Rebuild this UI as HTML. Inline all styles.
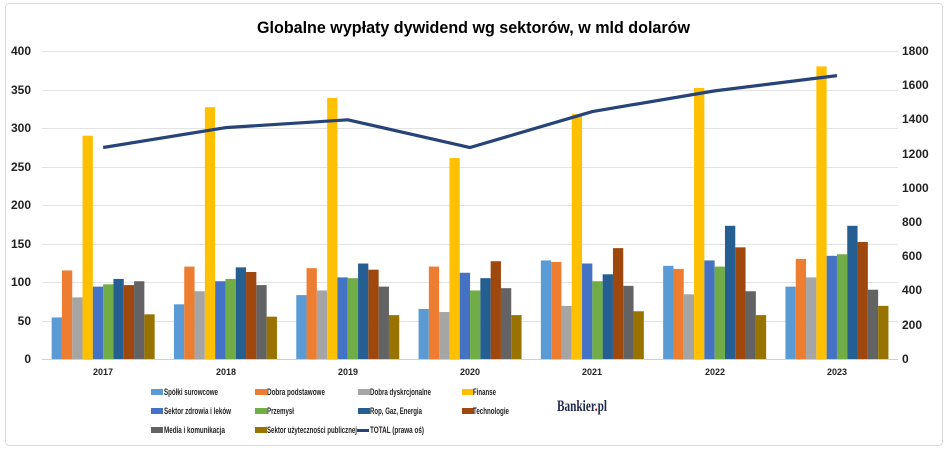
<!DOCTYPE html>
<html><head><meta charset="utf-8"><style>
html,body{margin:0;padding:0;background:#fff;}
svg{display:block;font-family:"Liberation Sans",sans-serif;}
</style></head><body>
<svg id="s" width="948" height="452" viewBox="0 0 948 452" xmlns="http://www.w3.org/2000/svg">
<rect x="5.5" y="3.5" width="937" height="442" rx="4" fill="#fff" stroke="#d9d9d9"/>
<text x="257" y="33" textLength="433" lengthAdjust="spacingAndGlyphs" font-size="17" font-weight="bold" fill="#000">Globalne wypłaty dywidend wg sektorów, w mld dolarów</text>
<g id="grid" stroke="#e3e3e3" stroke-width="1"></g>
<g id="bars"></g>
<g font-size="12" font-weight="bold" fill="#222" text-anchor="end">
<text x="31" y="55">400</text><text x="31" y="94">350</text><text x="31" y="132">300</text><text x="31" y="171">250</text><text x="31" y="209">200</text><text x="31" y="248">150</text><text x="31" y="286">100</text><text x="31" y="325">50</text><text x="31" y="363">0</text>
</g>
<g font-size="12" font-weight="bold" fill="#222" text-anchor="start">
<text x="902" y="55">1800</text><text x="902" y="89">1600</text><text x="902" y="123">1400</text><text x="902" y="158">1200</text><text x="902" y="192">1000</text><text x="902" y="226">800</text><text x="902" y="260">600</text><text x="902" y="294">400</text><text x="902" y="329">200</text><text x="902" y="363">0</text>
</g>
<g font-size="9" font-weight="bold" fill="#222" text-anchor="middle">
<text x="103" y="375">2017</text><text x="226" y="375">2018</text><text x="348" y="375">2019</text><text x="470" y="375">2020</text><text x="592" y="375">2021</text><text x="715" y="375">2022</text><text x="837" y="375">2023</text>
</g>
<g font-size="9" font-weight="bold" fill="#222" lengthAdjust="spacingAndGlyphs">
<rect x="151" y="389" width="12" height="6" fill="#5B9BD5"/><text x="164" y="395" textLength="54" lengthAdjust="spacingAndGlyphs">Spółki surowcowe</text>
<rect x="255" y="389" width="12" height="6" fill="#ED7D31"/><text x="267" y="395" textLength="58" lengthAdjust="spacingAndGlyphs">Dobra podstawowe</text>
<rect x="358" y="389" width="12" height="6" fill="#A5A5A5"/><text x="370" y="395" textLength="61" lengthAdjust="spacingAndGlyphs">Dobra dyskrcjonalne</text>
<rect x="462" y="389" width="12" height="6" fill="#FFC000"/><text x="473" y="395" textLength="23" lengthAdjust="spacingAndGlyphs">Finanse</text>
<rect x="151" y="408" width="12" height="6" fill="#4472C4"/><text x="164" y="414" textLength="67" lengthAdjust="spacingAndGlyphs">Sektor zdrowia i leków</text>
<rect x="255" y="408" width="12" height="6" fill="#70AD47"/><text x="267" y="414" textLength="27" lengthAdjust="spacingAndGlyphs">Przemysł</text>
<rect x="358" y="408" width="12" height="6" fill="#255E91"/><text x="370" y="414" textLength="52" lengthAdjust="spacingAndGlyphs">Rop, Gaz, Energia</text>
<rect x="462" y="408" width="12" height="6" fill="#9E480E"/><text x="473" y="414" textLength="36" lengthAdjust="spacingAndGlyphs">Technologie</text>
<rect x="151" y="427" width="12" height="6" fill="#636363"/><text x="164" y="433" textLength="61" lengthAdjust="spacingAndGlyphs">Media i komunikacja</text>
<rect x="255" y="427" width="12" height="6" fill="#997300"/><text x="267" y="433" textLength="90" lengthAdjust="spacingAndGlyphs">Sektor użyteczności publicznej</text>
<rect x="357" y="429" width="12" height="3" fill="#264478"/><text x="370" y="433" textLength="54" lengthAdjust="spacingAndGlyphs">TOTAL  (prawa oś)</text>
</g>
<text x="557" y="411" textLength="50" lengthAdjust="spacingAndGlyphs" font-family="Liberation Serif,serif" font-size="16" font-weight="bold" fill="#1f2a4d">Bankier<tspan fill="#c00">.</tspan>pl</text>
<polyline id="line" fill="none" stroke="#264478" stroke-width="3.2" stroke-linejoin="round"/>
</svg>
<script>
var y0=359,k=308/400;
var g=document.getElementById('grid'),b=document.getElementById('bars');
var ns='http://www.w3.org/2000/svg';
for(var v=0;v<=400;v+=50){var l=document.createElementNS(ns,'line');var y=Math.round(y0-v*k)+0.5;l.setAttribute('x1',42);l.setAttribute('x2',898);l.setAttribute('y1',y);l.setAttribute('y2',y);if(v==0)l.setAttribute('stroke','#d0d0d0');g.appendChild(l);}
var cols=['#5B9BD5','#ED7D31','#A5A5A5','#FFC000','#4472C4','#70AD47','#255E91','#9E480E','#636363','#997300'];
var d=[[54,115,80,290,94,97,104,96,101,58],[71,120,88,327,101,104,119,113,96,55],[83,118,89,339,106,105,124,116,94,57],[65,120,61,261,112,89,105,127,92,57],[128,126,69,318,124,101,110,144,95,62],[121,117,84,352,128,120,173,145,88,57],[94,130,106,380,134,136,173,152,90,69]];
var tot=[1236,1352,1398,1236,1446,1567,1656];
var step=122.3,bw=10.3,pts=[];
for(var i=0;i<7;i++){var c=42+step*(i+0.5);var x0=c-bw*5;
for(var j=0;j<10;j++){var r=document.createElementNS(ns,'rect');var h=d[i][j]*k;r.setAttribute('x',x0+j*bw);r.setAttribute('y',y0-h);r.setAttribute('width',bw);r.setAttribute('height',h);r.setAttribute('fill',cols[j]);b.appendChild(r);}
pts.push(c+','+(y0-tot[i]*308/1800));}
document.getElementById('line').setAttribute('points',pts.join(' '));
</script>
</body></html>
